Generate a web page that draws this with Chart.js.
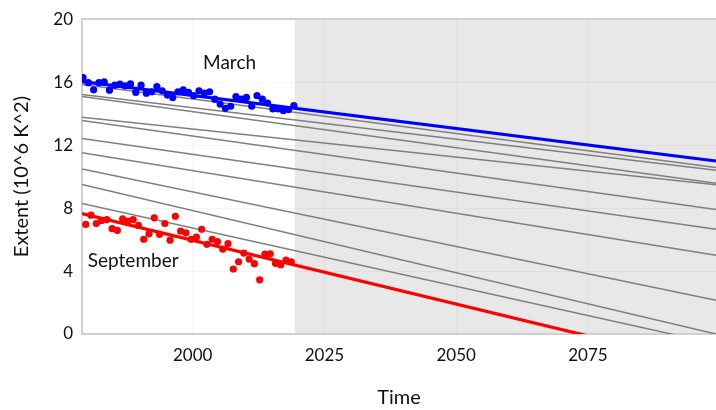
<!DOCTYPE html>
<html>
<head>
<meta charset="utf-8">
<title>Sea ice extent trends</title>
<script src="https://cdn.jsdelivr.net/npm/chart.js@4.4.1/dist/chart.umd.min.js"></script>
<style>
  html, body { margin: 0; padding: 0; background: #fff; }
  #wrap { width: 716px; height: 410px; }
</style>
</head>
<body>
<div id="wrap"><canvas id="extent-chart" width="716" height="410"></canvas></div>
<script>
// Observed years
const marchYears = [1979, 1980, 1981, 1982, 1983, 1984, 1985, 1986, 1987, 1988,
  1989, 1990, 1991, 1992, 1993, 1994, 1995, 1996, 1997, 1998,
  1999, 2000, 2001, 2002, 2003, 2004, 2005, 2006, 2007, 2008,
  2009, 2010, 2011, 2012, 2013, 2014, 2015, 2016, 2017, 2018, 2019];
const septemberYears = marchYears.slice(0, 40);

// Monthly extent values (10^6 km^2)
const marchExtent = [16.29, 15.97, 15.51, 15.97, 16.02, 15.49, 15.81, 15.87, 15.76, 15.89,
  15.35, 15.81, 15.30, 15.39, 15.72, 15.45, 15.18, 15.03, 15.39, 15.51,
  15.35, 15.14, 15.45, 15.30, 15.39, 14.92, 14.61, 14.34, 14.47, 15.09,
  14.92, 15.03, 14.47, 15.14, 14.92, 14.67, 14.30, 14.30, 14.19, 14.26, 14.51];
const septemberExtent = [6.96, 7.55, 7.02, 7.21, 7.27, 6.69, 6.58, 7.32, 7.17, 7.27,
  6.90, 6.02, 6.37, 7.38, 6.33, 7.02, 5.96, 7.48, 6.54, 6.43,
  6.02, 6.16, 6.65, 5.70, 6.02, 5.87, 5.39, 5.74, 4.13, 4.59,
  5.14, 4.76, 4.47, 3.44, 5.08, 5.10, 4.49, 4.40, 4.70, 4.59];

// Linear trends, value at start and end of the time span
const trendSpan = [1979, 2099.3];
const marchTrend = [16.04, 10.99];
const septemberTrend = [7.65, -2.09];
const otherTrendStart = [15.85, 15.22, 15.09, 13.77, 13.57, 12.42, 11.51, 10.48, 9.50, 8.30];
const otherTrendEnd = [10.58, 10.40, 9.58, 9.48, 7.91, 6.65, 5.01, 2.14, 0.0, -0.63];

// Axes
const xTicks = [2000, 2025, 2050, 2075];
const yTicks = [0, 4, 8, 12, 16, 20];
const projectionStart = 2019.4;

// mid-month position within the year
const marchOffset = 2.5 / 12;
const septemberOffset = 8.5 / 12;

const fontFamily = 'Lato, "Open Sans", sans-serif';

function toPoints(years, values, offset) {
  return years.map((y, i) => ({ x: y + offset, y: values[i] }));
}

function trendPoints(values) {
  return trendSpan.map((t, i) => ({ x: t, y: values[i] }));
}

// grey shading behind the projected part of the chart
const projectionShade = {
  id: 'projectionShade',
  beforeDraw(chart) {
    const { ctx, chartArea, scales } = chart;
    const x0 = scales.x.getPixelForValue(projectionStart);
    ctx.save();
    ctx.fillStyle = '#e8e8e8';
    ctx.fillRect(x0, chartArea.top, chartArea.right - x0, chartArea.bottom - chartArea.top);
    ctx.restore();
  }
};

// month names next to their series
const seriesLabels = {
  id: 'seriesLabels',
  afterDatasetsDraw(chart) {
    const { ctx, scales } = chart;
    ctx.save();
    ctx.font = '19px ' + fontFamily;
    ctx.fillStyle = '#111';
    ctx.textBaseline = 'middle';
    ctx.textAlign = 'center';
    ctx.fillText('March', scales.x.getPixelForValue(2007), scales.y.getPixelForValue(17.2));
    ctx.textAlign = 'left';
    ctx.fillText('September', scales.x.getPixelForValue(1980.1), scales.y.getPixelForValue(4.65));
    ctx.restore();
  }
};

const datasets = [
  {
    label: 'March',
    data: toPoints(marchYears, marchExtent, marchOffset),
    backgroundColor: '#0000ff',
    pointRadius: 3.6,
    borderWidth: 0,
    order: 0
  },
  {
    label: 'September',
    data: toPoints(septemberYears, septemberExtent, septemberOffset),
    backgroundColor: '#ff0000',
    pointRadius: 3.6,
    borderWidth: 0,
    order: 0
  },
  {
    type: 'line',
    label: 'March trend',
    data: trendPoints(marchTrend),
    borderColor: '#0000ff',
    borderWidth: 3.2,
    pointRadius: 0,
    order: 1
  },
  {
    type: 'line',
    label: 'September trend',
    data: trendPoints(septemberTrend),
    borderColor: '#ff0000',
    borderWidth: 3.2,
    pointRadius: 0,
    order: 1
  }
];

otherTrendStart.forEach((start, i) => {
  datasets.push({
    type: 'line',
    label: 'trend ' + i,
    data: trendPoints([start, otherTrendEnd[i]]),
    borderColor: '#7f7f7f',
    borderWidth: 1.5,
    pointRadius: 0,
    order: 2
  });
});

new Chart(document.getElementById('extent-chart'), {
  type: 'scatter',
  data: { datasets: datasets },
  options: {
    responsive: false,
    animation: false,
    clip: 0,
    layout: {
      autoPadding: false,
      padding: { top: 16, right: 0, bottom: 0, left: 0 }
    },
    plugins: {
      legend: { display: false },
      tooltip: { enabled: false }
    },
    scales: {
      x: {
        type: 'linear',
        min: trendSpan[0],
        max: trendSpan[1],
        afterBuildTicks(scale) {
          scale.ticks = xTicks.map(v => ({ value: v }));
        },
        afterFit(scale) {
          scale.height = 76;
          scale.paddingLeft = 0;
          scale.paddingRight = 0;
        },
        grid: { color: 'rgba(0,0,0,0.04)', drawTicks: false },
        border: { color: '#d0d0d0', width: 2 },
        ticks: {
          padding: 11,
          color: '#111',
          font: { family: fontFamily, size: 17 },
          callback: v => String(v)
        },
        title: {
          display: true,
          text: 'Time',
          color: '#111',
          font: { family: fontFamily, size: 20 },
          padding: { top: 0, bottom: 0 }
        }
      },
      y: {
        min: yTicks[0],
        max: yTicks[yTicks.length - 1],
        afterBuildTicks(scale) {
          scale.ticks = yTicks.map(v => ({ value: v }));
        },
        afterFit(scale) { scale.width = 82; },
        grid: {
          drawTicks: false,
          color: c => c.tick && c.tick.value === 20 ? '#d0d0d0' : 'rgba(0,0,0,0.04)',
          lineWidth: c => c.tick && c.tick.value === 20 ? 2 : 1
        },
        border: { color: '#d0d0d0', width: 2 },
        ticks: {
          padding: 9,
          color: '#111',
          font: { family: fontFamily, size: 17 }
        },
        title: {
          display: true,
          text: 'Extent (10^6 K^2)',
          color: '#111',
          font: { family: fontFamily, size: 20 },
          padding: { top: 10, bottom: 0 }
        }
      }
    }
  },
  plugins: [projectionShade, seriesLabels]
});
</script>
</body>
</html>
